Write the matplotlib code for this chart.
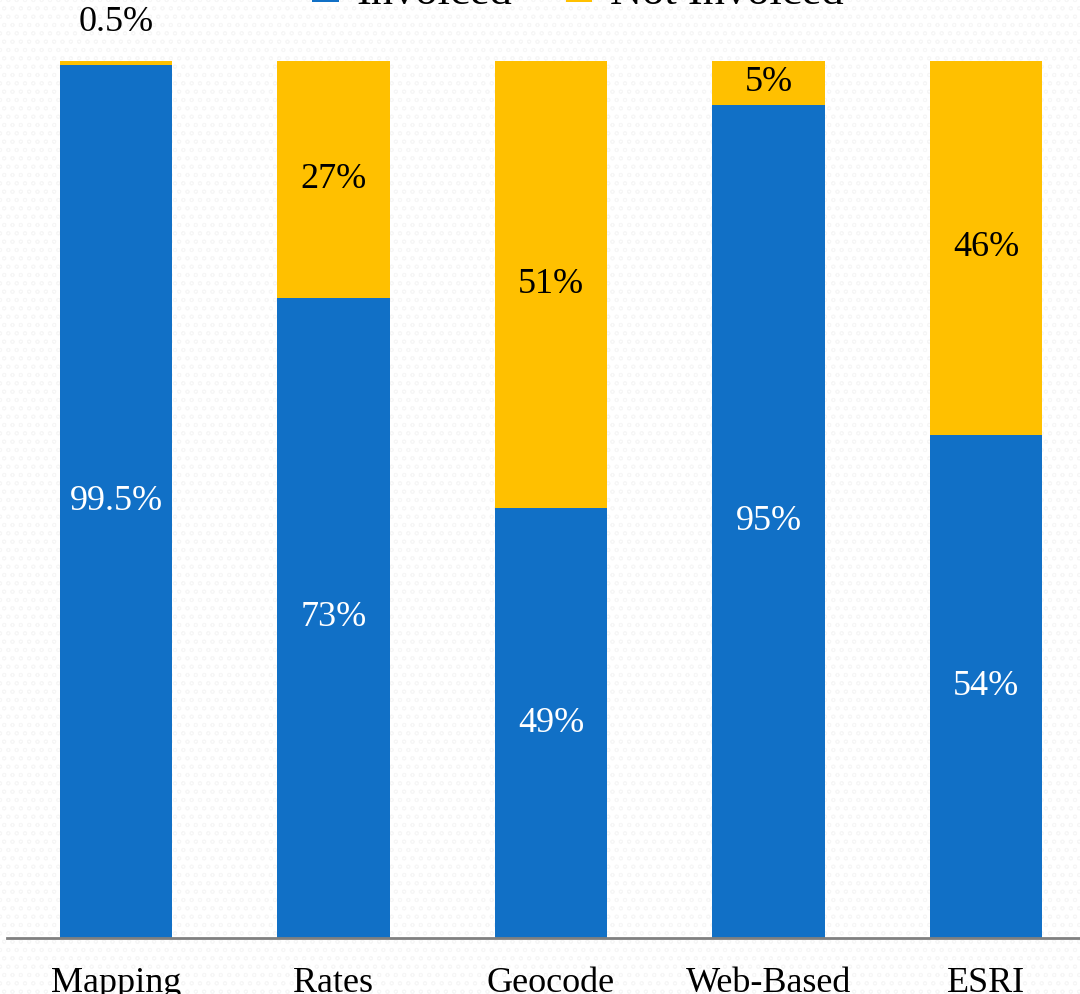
import matplotlib
matplotlib.use("Agg")
import matplotlib.pyplot as plt
from matplotlib.patches import Rectangle

categories = ["Mapping", "Rates", "Geocode", "Web-Based", "ESRI"]
invoiced = [99.5, 73, 49, 95, 57.4]
not_invoiced = [0.5, 27, 51, 5, 42.6]
inv_labels = ["99.5%", "73%", "49%", "95%", "54%"]
not_labels = ["0.5%", "27%", "51%", "5%", "46%"]

BLUE = "#1170C6"
YELLOW = "#FFC000"
plt.rcParams['font.family'] = ['Liberation Serif', 'DejaVu Serif']
plt.rcParams['hatch.linewidth'] = 0.6

W, H = 1080, 994
fig = plt.figure(figsize=(W / 100, H / 100), dpi=100)
fig.patch.set_facecolor("white")
bg = Rectangle((0, 0), 1, 1, transform=fig.transFigure, facecolor="white",
               edgecolor="#f6f6f6", hatch="oo", linewidth=0, zorder=-10)
fig.patches.append(bg)

left = 7.25 / W
width = 1087.5 / W
bottom = (H - 938) / H
top = (H - 61) / H
ax = fig.add_axes([left, bottom, width, top - bottom])
ax.set_facecolor("none")

x = range(len(categories))
bw = 0.515
b1 = ax.bar(x, invoiced, bw, color=BLUE, label="Invoiced")
b2 = ax.bar(x, not_invoiced, bw, bottom=invoiced, color=YELLOW, label="Not Invoiced")

FS = 26
for i in x:
    ax.text(i, invoiced[i] / 2, inv_labels[i], ha="center", va="center",
            color="white", fontsize=FS)
    if not_invoiced[i] < 2:
        ax.text(i, 100 + 4.4, not_labels[i], ha="center", va="center",
                color="black", fontsize=FS, clip_on=False)
    else:
        ax.text(i, invoiced[i] + not_invoiced[i] / 2, not_labels[i], ha="center",
                va="center", color="black", fontsize=FS)

ax.set_xlim(-0.5, 4.5)
ax.set_ylim(0, 100)
ax.set_yticks([])
ax.set_xticks(list(x))
ax.set_xticklabels(categories, fontsize=26)
ax.tick_params(axis="x", length=0, pad=21)
for s in ["left", "right", "top"]:
    ax.spines[s].set_visible(False)
ax.spines["bottom"].set_color("#808080")
ax.spines["bottom"].set_linewidth(2)

fig.legend(handles=[b1, b2], labels=["Invoiced", "Not Invoiced"], loc="center",
           bbox_to_anchor=(0.535, 1.007), ncol=2, frameon=False, fontsize=32,
           handlelength=0.6, handleheight=0.6, columnspacing=1.2, handletextpad=0.4)

fig.savefig("out.png", dpi=100)
